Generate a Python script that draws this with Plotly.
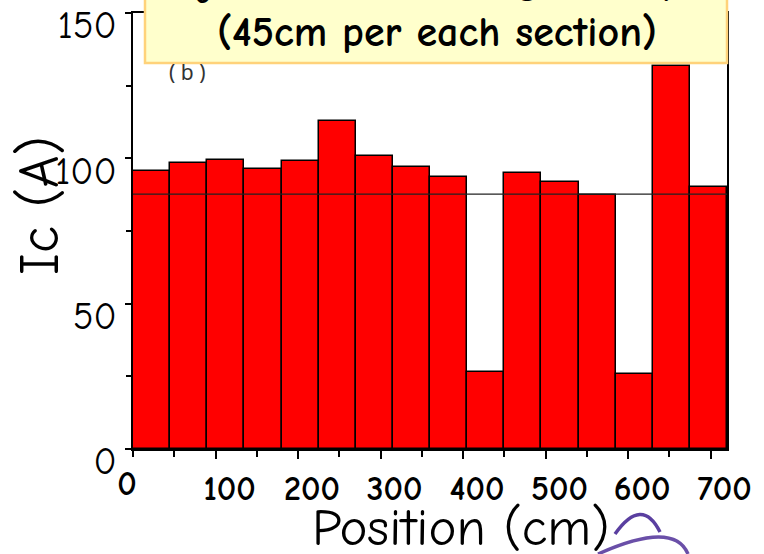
import plotly.graph_objects as go

# ---- data ----
section_centers = [22.5, 67.5, 112.5, 157.5, 202.5, 247.5, 292.5, 337.5,
                   382.5, 427.5, 472.5, 517.5, 562.5, 607.5, 652.5, 697.5]
section_width = 45
ic_values = [95.7, 98.3, 99.6, 96.5, 99.1, 112.7, 100.8, 97.0,
             93.5, 26.4, 94.8, 91.7, 87.5, 25.8, 131.7, 90.0]
avg_x = [0, 720]
avg_ic = [87.7, 87.7]
x_tick_vals = [100, 200, 300, 400, 500, 600, 700]
x_tick_text = ["<b>100</b>", "<b>200</b>", "<b>300</b>", "<b>400</b>",
               "<b>500</b>", "<b>600</b>", "<b>700</b>"]
y_tick_vals = [0, 50, 100, 150]
y_tick_text = ["0", "50", "100", "150"]

FONT = "Comic Sans MS, Comic Neue, Noto Sans, DejaVu Sans"

# plot-area geometry in pixels
L, R, T, B = 133, 37, 13, 105
PW, PH = 764 - L - R, 554 - T - B


def pxp(xp, yp):
    """pixel position -> paper coordinates"""
    return (xp - L) / PW, (554 - B - yp) / PH


fig = go.Figure()
fig.add_trace(go.Bar(
    x=section_centers, y=ic_values, width=section_width,
    marker=dict(color="#FF0000", line=dict(color="#000000", width=1.5)),
    showlegend=False, hoverinfo="x+y"))
fig.add_trace(go.Scatter(
    x=avg_x, y=avg_ic, mode="lines", xaxis="x2",
    line=dict(color="#222222", width=1.2), showlegend=False))

fig.update_layout(
    width=764, height=554,
    margin=dict(l=L, r=R, t=T, b=B, autoexpand=False),
    paper_bgcolor="white", plot_bgcolor="white",
    bargap=0,
    xaxis=dict(range=[0, 720], showline=True, linecolor="black", linewidth=1.5,
               mirror=True, showgrid=False, zeroline=False, automargin=False,
               tickvals=x_tick_vals, ticktext=x_tick_text,
               ticks="outside", ticklen=8, tickwidth=1.5, tickcolor="black",
               minor=dict(ticks="outside", ticklen=6, tickwidth=1.5,
                          tickcolor="black", tick0=0, dtick=50),
               ticklabelshift=14, ticklabelstandoff=0, ticklabeloverflow="allow",
               tickfont=dict(family=FONT, size=34, color="black")),
    xaxis2=dict(range=[0, 720], overlaying="x", side="bottom", showline=False,
                showgrid=False, zeroline=False, automargin=False,
                tickvals=[0], ticktext=["<b>0</b>"],
                ticks="", ticklabelshift=-6, ticklabelstandoff=11,
                ticklabeloverflow="allow",
                tickfont=dict(family=FONT, size=34, color="black")),
    yaxis=dict(range=[0, 150], showline=True, linecolor="black", linewidth=1.5,
               mirror=True, showgrid=False, zeroline=False, automargin=False,
               tickvals=y_tick_vals, ticktext=y_tick_text,
               ticks="outside", ticklen=6, tickwidth=1.5, tickcolor="black",
               minor=dict(ticks="outside", ticklen=5, tickwidth=1.5,
                          tickcolor="black", tick0=0, dtick=25),
               ticklabelshift=12, ticklabelstandoff=1, ticklabeloverflow="allow",
               tickfont=dict(family=FONT, size=38, color="black")),
)

# axis titles
x, y = pxp(461, 527)
fig.add_annotation(text="Position (cm)", xref="paper", yref="paper", x=x, y=y,
                   xanchor="center", yanchor="middle", showarrow=False,
                   font=dict(family=FONT, size=53, color="black"))
x, y = pxp(40, 206)
fig.add_annotation(text="Ic (A)", xref="paper", yref="paper", x=x, y=y,
                   textangle=-90, xanchor="center", yanchor="middle",
                   showarrow=False,
                   font=dict(family=FONT, size=56, color="black"))

# panel label
x, y = pxp(187, 72)
fig.add_annotation(text="( b )", xref="paper", yref="paper", x=x, y=y,
                   xanchor="center", yanchor="middle", showarrow=False,
                   font=dict(family="Noto Sans", size=21, color="#333333"))

# callout box (drawn over the plot, running off the top of the page)
bx0, by0 = pxp(145, 63)
bx1, by1 = pxp(727, -40)
fig.add_shape(type="rect", xref="paper", yref="paper",
              x0=bx0, y0=by0, x1=bx1, y1=by1, layer="above",
              fillcolor="#FFFFCC", line=dict(color="#FFD27A", width=2.5))
x, y = pxp(176, -17)
fig.add_annotation(text="<b>I<sub>c</sub> distribution along the tape</b>",
                   xref="paper", yref="paper", x=x, y=y,
                   xanchor="left", yanchor="middle", showarrow=False,
                   font=dict(family=FONT, size=42, color="black"))
x, y = pxp(437, 33)
fig.add_annotation(text="<b>(45cm per each section)</b>",
                   xref="paper", yref="paper", x=x, y=y,
                   xanchor="center", yanchor="middle", showarrow=False,
                   font=dict(family=FONT, size=42, color="black"))

# small decorative logo swirl
x0, y0 = pxp(615, 534); x1, y1 = pxp(642, 496); x2, y2 = pxp(660, 532)
fig.add_shape(type="path", xref="paper", yref="paper",
              path=f"M{x0},{y0} Q{x1},{y1} {x2},{y2}",
              line=dict(color="#5A3FA0", width=3.5))
x0, y0 = pxp(598, 554); x1, y1 = pxp(674, 520); x2, y2 = pxp(688, 554)
fig.add_shape(type="path", xref="paper", yref="paper",
              path=f"M{x0},{y0} Q{x1},{y1} {x2},{y2}",
              line=dict(color="#6A4FA8", width=3.5))

fig.write_html("out.html",
               config={"displayModeBar": False},
               post_script="document.body.style.margin='0';"
                           "document.body.style.overflow='hidden';")
